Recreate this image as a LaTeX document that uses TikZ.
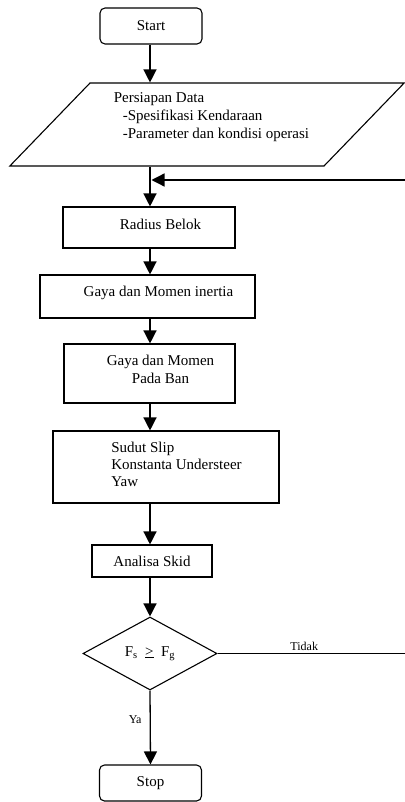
\documentclass[tikz,border=0pt]{standalone}
\usepackage{fontspec}
\setmainfont{Liberation Serif}
\usetikzlibrary{shapes.geometric,arrows.meta,positioning}

\begin{document}
\begin{tikzpicture}[x=1pt, y=-1pt, every node/.style={font=\fontsize{15}{18}\selectfont}, terminal/.style={draw, line width=1.1pt, rounded corners=5pt, minimum width=102pt, minimum height=36pt}, process/.style={draw, line width=1.1pt}, io/.style={draw, line width=1.1pt, trapezium, trapezium left angle=46, trapezium right angle=134}, decision/.style={draw, line width=1.1pt, diamond, aspect=1.8}, answer/.style={font=\fontsize{12}{14}\selectfont, inner sep=2pt}, flow/.style={line width=1.3pt, -{Triangle[width=13pt,length=13pt]}}]
    \useasboundingbox (0,0) rectangle (404,802);
    \coordinate (spine) at (150,0);

    \node[terminal] (start) at (151,26) {Start};
    \node[io, inner xsep=117pt, inner ysep=41.5pt] (data) at (207,124.5) {};
    \node[inner sep=0pt, align=left] (datatext) at (211.5,117) {Persiapan Data\\\hspace*{9pt}-Spesifikasi Kendaraan\\\hspace*{9pt}-Parameter dan kondisi operasi};
    \coordinate (merge) at (151.5,180);
    \coordinate (back) at (406,180);

    \node[process, minimum width=172pt, minimum height=41pt, label={[name=radiustext, xshift=11.5pt, yshift=3.5pt]center:Radius Belok}] (radius) at (149,227.5) {};
    \node[process, minimum width=215pt, minimum height=43pt, label={[name=inertiatext, xshift=11pt, yshift=4pt]center:Gaya dan Momen inertia}] (inertia) at (147.5,296.5) {};
    \node[process, minimum width=171pt, minimum height=59pt, label={[name=bantext, align=center, xshift=11pt, yshift=4.5pt]center:Gaya dan Momen\\Pada Ban}] (ban) at (149.5,373.5) {};
    \node[process, minimum width=226pt, minimum height=72pt, label={[name=sliptext, align=left, font=\fontsize{15}{17}\selectfont, xshift=10.5pt, yshift=3pt]center:Sudut Slip\\Konstanta Understeer\\Yaw}] (slip) at (166,467) {};
    \node[process, minimum width=120pt, minimum height=32pt] (skid) at (152,561) {Analisa Skid};
    \node[decision, minimum width=134pt, minimum height=73pt] (cond) at (150,653.5) {F\textsubscript{s}\ \ \underline{>}\ \ F\textsubscript{g}};
    \node[terminal] (stop) at (150.5,783) {Stop};

    \draw[flow] (spine |- start.south) -- (spine |- data.north);
    \draw[flow] (spine |- data.south) -- (spine |- radius.north);
    \foreach \a/\b in {radius/inertia, inertia/ban, ban/slip, slip/skid, skid/cond}
        \draw[flow] (spine |- \a.south) -- (spine |- \b.north);
    \draw[flow] (cond.south) -- node[answer, left=6pt, pos=0.4] (ya) {Ya} (stop.north);
    \draw[flow] (cond.east) -- node[answer, above, pos=0.46] (tidak) {Tidak} (cond.east -| back) -- (back) -- (merge);
\end{tikzpicture}
\end{document}
